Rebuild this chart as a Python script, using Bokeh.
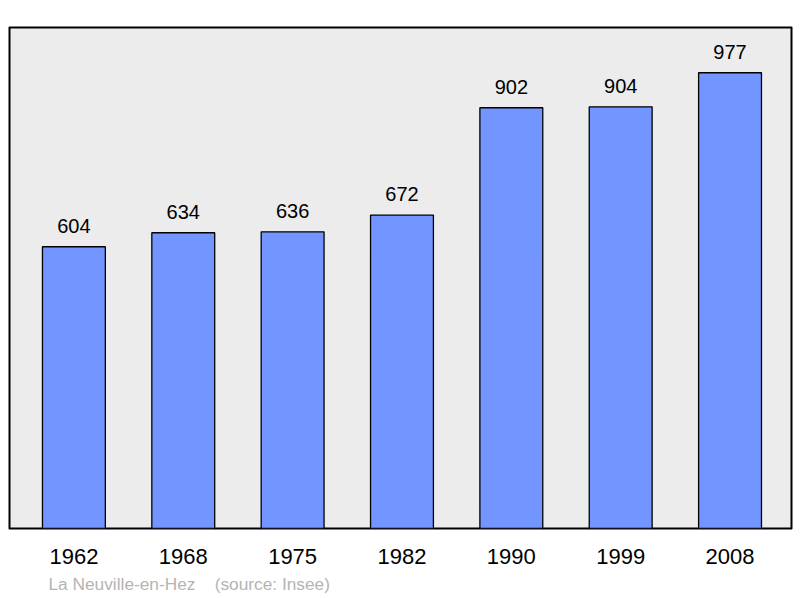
from bokeh.plotting import figure
from bokeh.models import Range1d, Title, FixedTicker, ColumnDataSource
from bokeh.core.properties import value
from bokeh.embed import file_html
from bokeh.resources import INLINE

years = ["1962", "1968", "1975", "1982", "1990", "1999", "2008"]
population = [604, 634, 636, 672, 902, 904, 977]
source_note = "La Neuville-en-Hez\u00a0\u00a0\u00a0\u00a0(source: Insee)"

idx = list(range(len(years)))
src = ColumnDataSource(dict(x=idx, top=population, label=[str(v) for v in population]))

p = figure(width=800, height=598, output_backend="svg", toolbar_location=None,
           x_range=Range1d(-0.589, 6.562), y_range=Range1d(0, 1074),
           min_border_left=9, min_border_right=9, min_border_top=27, min_border_bottom=70)
p.background_fill_color = "#ececec"
p.border_fill_color = "white"
p.outline_line_color = "black"
p.outline_line_width = 2
p.outline_line_join = "round"
p.grid.visible = False
p.yaxis.visible = False

p.vbar(x="x", top="top", bottom=0, width=0.575, source=src,
       fill_color="#7295ff", line_color="black", line_width=1.3)
p.text(x="x", y="top", text="label", source=src, text_align="center",
       text_baseline="alphabetic", y_offset=-21, text_font=value("Liberation Sans"),
       text_font_size="20px", text_color="black")

xa = p.xaxis[0]
xa.ticker = FixedTicker(ticks=idx)
xa.major_label_overrides = {i: y for i, y in zip(idx, years)}
xa.axis_line_color = None
xa.major_tick_line_color = None
xa.minor_tick_line_color = None
xa.major_label_text_font = "Liberation Sans"
xa.major_label_text_font_size = "22px"
xa.major_label_text_color = "black"
xa.major_label_standoff = 14

p.add_layout(Title(text=source_note, align="left", offset=39, standoff=10,
                   text_font="Liberation Sans", text_font_size="17.3px",
                   text_font_style="normal", text_color="#b4b4b4"), "below")

open("out.html", "w").write(file_html(p, INLINE))
